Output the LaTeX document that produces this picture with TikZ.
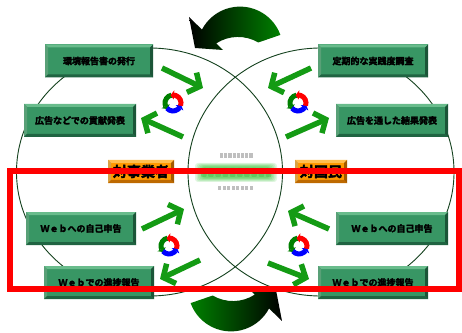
\documentclass[tikz,border=0pt]{standalone}
\usepackage{fontspec}
\newfontfamily\jp{Noto Sans CJK JP}[BoldFont={Noto Sans CJK JP Bold}, BoldFeatures={FakeBold=3}]
\usetikzlibrary{arrows.meta,bending}

\definecolor{cara}{RGB}{56,150,100}
\definecolor{biselclaro}{RGB}{105,188,140}
\definecolor{biseloscuro}{RGB}{32,100,66}
\definecolor{naranja}{RGB}{255,153,0}
\definecolor{naranjaclaro}{RGB}{255,190,80}
\definecolor{naranjaoscuro}{RGB}{190,105,0}
\definecolor{flechaverde}{RGB}{20,155,20}
\definecolor{verdeosc}{RGB}{0,128,0}
\definecolor{borde}{RGB}{20,65,30}

\tikzset{
  bisel/.style 2 args={path picture={
      \path (path picture bounding box.north west) coordinate (nw)
            (path picture bounding box.north east) coordinate (ne)
            (path picture bounding box.south west) coordinate (sw)
            (path picture bounding box.south east) coordinate (se);
      \fill[#1] (nw) -- (ne) -- ([shift={(-3pt,-3pt)}]ne) -- ([shift={(3pt,-3pt)}]nw) -- cycle;
      \fill[#1!85!black] (nw) -- ([shift={(3pt,-3pt)}]nw) -- ([shift={(3pt,3pt)}]sw) -- (sw) -- cycle;
      \fill[#2] (sw) -- (se) -- ([shift={(-3pt,3pt)}]se) -- ([shift={(3pt,3pt)}]sw) -- cycle;
      \fill[#2!85!black] (ne) -- (se) -- ([shift={(-3pt,3pt)}]se) -- ([shift={(-3pt,-3pt)}]ne) -- cycle;
    }},
  caja/.style={minimum width=#1, minimum height=33pt, inner sep=0pt,
    fill=cara, bisel={biselclaro}{biseloscuro},
    font=\jp\bfseries\fontsize{9}{9}\selectfont},
  etiqueta/.style={minimum width=#1, minimum height=23pt, inner sep=0pt,
    fill=naranja, bisel={naranjaclaro}{naranjaoscuro},
    font=\jp\bfseries\fontsize{14}{14}\selectfont},
  flecha/.style={line width=5.5pt, flechaverde,
    -{Straight Barb[length=9pt,width=22pt]}},
  ciclo/.pic={
    \draw[line width=5pt, verdeosc, -{Triangle[length=3.5pt,width=9pt,bend]}]
      (100:8) arc[start angle=100, end angle=228, radius=8];
    \draw[line width=5pt, blue, -{Triangle[length=3.5pt,width=9pt,bend]}]
      (220:8) arc[start angle=220, end angle=348, radius=8];
    \draw[line width=5pt, red, -{Triangle[length=3.5pt,width=9pt,bend]}]
      (340:8) arc[start angle=340, end angle=468, radius=8];
  }
}

\begin{document}
\begin{tikzpicture}[x=1pt,y=1pt]
  \useasboundingbox (0,0) rectangle (462,332);
  % Circulos
  \draw[borde, line width=0.9pt] (149.5,160) ellipse [x radius=133, y radius=124];
  \draw[borde, line width=0.9pt] (321,160) ellipse [x radius=133, y radius=124];

  % Flechas curvas grandes
  \shade[left color=black, right color=verdeosc]
    (280.4,297.1) arc[start angle=20, end angle=152.2, radius=43]
    -- (189,315) -- (195,284) -- (223,282) -- (216.2,288.6)
    arc[start angle=123, end angle=59.5, radius=40] -- cycle;
  \shade[left color=verdeosc, right color=black]
    (190.6,28.9) arc[start angle=200, end angle=332.2, radius=43]
    -- (282,11) -- (276,42) -- (248,44) -- (254.8,37.4)
    arc[start angle=303, end angle=239.5, radius=40] -- cycle;

  % Texto central (borroso)
  \foreach \i in {0,...,7} {
    \fill[gray!50] (220+\i*4.2,174) rectangle ++(3.2,4.5);
    \fill[gray!50] (218+\i*4.5,142) rectangle ++(3.4,4.5);
  }
  \foreach \o in {0,1.5,...,7.5}
    \fill[green!70!black, opacity=0.12, rounded corners=3pt]
      (195+\o,150+\o/2) rectangle (277-\o,169-\o/2);
  \foreach \i in {0,...,9}
    \fill[green!55!black, opacity=0.18, rounded corners=1pt]
      (201+\i*7.2,155) rectangle ++(5.5,9);

  % Cajas
  \node[caja=108pt] (informe) at (99,271) {環境報告書の発行};
  \node[caja=112pt] (publicidad) at (80,211.5) {広告などでの貢献発表};
  \node[caja=110pt] (encuesta) at (373,271) {定期的な実践度調査};
  \node[caja=112pt] (resultados) at (392,211.5) {広告を通した結果発表};
  \node[caja=110pt] (webizq) at (81,103.5) {Ｗｅｂへの自己申告};
  \node[caja=110pt] (avanceizq) at (99,49.5) {Ｗｅｂでの進捗報告};
  \node[caja=112pt] (webder) at (392,103.5) {Ｗｅｂへの自己申告};
  \node[caja=110pt] (avanceder) at (373,49.5) {Ｗｅｂでの進捗報告};
  \node[etiqueta=66pt] (empresas) at (141,160.5) {対事業者};
  \node[etiqueta=52pt] (ciudadanos) at (321,160.5) {対国民};

  % Flechas verdes
  \foreach \n/\a/\b in {a/{162,264}/{203,244}, b/{183,195}/{141,214},
                        c/{311,264}/{268,244}, d/{286,195}/{329,214},
                        e/{142,103}/{184,123}, f/{200,72}/{160,53},
                        g/{329,103}/{288,121}, h/{268,69}/{309,53}} {
    \coordinate (\n-ini) at (\a);
    \coordinate (\n-fin) at (\b);
    \draw[flecha] (\n-ini) -- (\n-fin);
  }

  % Ciclos
  \coordinate (ciclo-1) at (173,229);
  \coordinate (ciclo-2) at (298,229);
  \coordinate (ciclo-3) at (169,86);
  \coordinate (ciclo-4) at (299,86);
  \foreach \k in {1,...,4}
    \pic at (ciclo-\k) {ciclo};

  % Recuadro rojo
  \draw[red, line width=6pt] (10,43) rectangle (459,161);
\end{tikzpicture}
\end{document}
